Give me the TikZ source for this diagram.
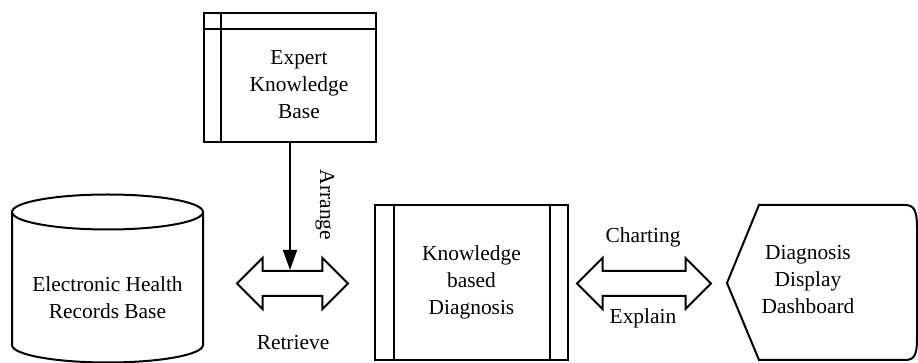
\documentclass[tikz,border=0pt]{standalone}
\usepackage{fontspec}
\setmainfont{Liberation Serif}
\newfontfamily\diagfont{Liberation Serif}
\usetikzlibrary{shapes.arrows,arrows.meta,calc}
\tikzset{
  txt/.style={align=center,inner sep=0pt,font=\diagfont\fontsize{10.7pt}{13.5pt}\selectfont},
  panel/.style={draw,line width=1pt,minimum width=#1,inner sep=0pt},
  fatarrow/.style={draw,line width=1pt,shape=double arrow,inner xsep=0pt,inner ysep=5.75pt,
    double arrow head extend=6.5pt,double arrow tip angle=90},
}
\begin{document}
\begin{tikzpicture}[x=0.5pt,y=-0.5pt]
\useasboundingbox (0,0) rectangle (918,363);

\node [panel=86pt,minimum height=64.5pt] (expert) at (290,77.5) {};
\draw [line width=1pt] ([xshift=9pt]expert.north west) -- ([xshift=9pt]expert.south west);
\draw [line width=1pt] ([yshift=-8.5pt]expert.north west) -- ([yshift=-8.5pt]expert.north east);
\node [txt] (experttxt) at (299,85) {Expert\\Knowledge\\Base};

\draw [line width=1pt] (107.5,212) ellipse [x radius=47.75pt, y radius=8.75pt];
\draw [line width=1pt] (12,212) -- (12,345) arc [start angle=180, end angle=360, x radius=47.75pt, y radius=8.75pt] -- (203,212);
\node [txt] (ehr) at (107.5,298) {Electronic Health\\Records Base};

\node [fatarrow,minimum height=55.5pt] (retrieve) at (292.5,283.5) {};
\node [txt] (retrievetxt) at (293,343) {Retrieve};

\draw [line width=0.75pt,-{Triangle[width=7pt,length=10pt]}] (expert.south) -- (expert.south |- retrieve.north);
\node [txt,rotate=-90] (arrange) at (325,205) {Arrange};

\node [panel=96.5pt,minimum height=77.5pt] (kbd) at (471.5,282.5) {};
\draw [line width=1pt] ([xshift=10pt]kbd.north west) -- ([xshift=10pt]kbd.south west);
\draw [line width=1pt] ([xshift=-9.5pt]kbd.north east) -- ([xshift=-9.5pt]kbd.south east);
\node [txt] (kbdtxt) at (kbd.center) {Knowledge\\based\\Diagnosis};

\node [fatarrow,minimum height=67pt] (chart) at (644,283.5) {};
\node [txt] (charting) at (643,237) {Charting};
\node [txt] (explain) at (643,318) {Explain};

\draw [line width=1pt] (727,283) -- (759,205) -- (905,205) .. controls (915,205) and (917,212) .. (917,228)
  -- (917,338) .. controls (917,354) and (915,360) .. (905,360) -- (759,360) -- cycle;
\node [txt] (dash) at (808,280) {Diagnosis\\Display\\Dashboard};

\end{tikzpicture}
\end{document}
